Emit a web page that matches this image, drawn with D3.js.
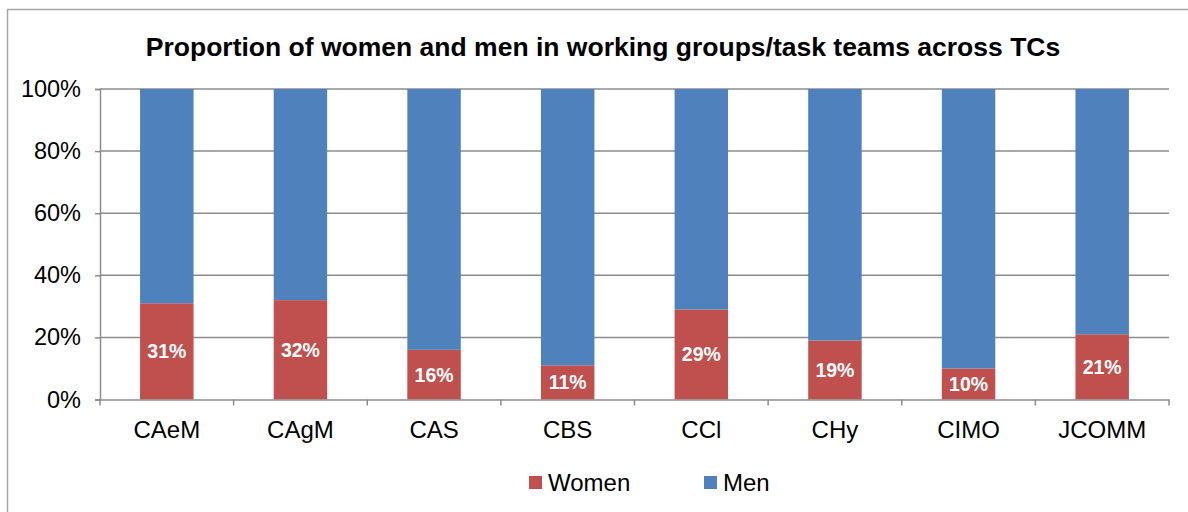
<!DOCTYPE html>
<html><head><meta charset="utf-8">
<script src="https://cdn.jsdelivr.net/npm/d3@7"></script>
<style>body{margin:0;background:#fff}svg{display:block;font-family:"Liberation Sans",Arial,sans-serif}</style>
</head><body>
<svg id="c" width="1188" height="512"></svg>
<script>
const categories = ["CAeM","CAgM","CAS","CBS","CCl","CHy","CIMO","JCOMM"];
const women = [31,32,16,11,29,19,10,21];
const men = [69,68,84,89,71,81,90,79];
const yTicks = [0,20,40,60,80,100];
const seriesNames = ["Women","Men"];
const colors = {Women:"#C0504D", Men:"#4F81BD"};

const svg = d3.select("#c");
const m = {left:100, right:1169, top:89, bottom:399.5};
const FONT = "Liberation Sans, Arial, sans-serif";

// frame
svg.append("rect").attr("x",7.5).attr("y",9.5).attr("width",1200).attr("height",520)
  .attr("fill","none").attr("stroke","#a6a6a6").attr("stroke-width",1.5);

const x = d3.scaleBand().domain(categories).range([m.left,m.right]).paddingInner(0.6).paddingOuter(0.3);
const xb = d3.scaleBand().domain(categories).range([m.left,m.right]);
const y = d3.scaleLinear().domain([0,100]).range([m.bottom,m.top]);

// gridlines
svg.append("g").selectAll("line").data(yTicks.filter(t=>t>0)).join("line")
  .attr("x1",m.left).attr("x2",m.right).attr("y1",d=>y(d)).attr("y2",d=>y(d))
  .attr("stroke","#8c8c8c").attr("stroke-width",1.5);

// stacked data
const rows = categories.map((c,i)=>({cat:c, Women:women[i], Men:men[i]}));
const stack = d3.stack().keys(seriesNames)(rows);
svg.append("g").selectAll("g").data(stack).join("g").attr("fill",d=>colors[d.key])
  .selectAll("rect").data(d=>d).join("rect")
  .attr("x",d=>x(d.data.cat)).attr("width",x.bandwidth())
  .attr("y",d=>y(d[1])).attr("height",d=>y(d[0])-y(d[1]));

// labels
svg.append("g").selectAll("text").data(stack[0]).join("text")
  .attr("x",d=>x(d.data.cat)+x.bandwidth()/2)
  .attr("y",d=>(y(d[0])+y(d[1]))/2)
  .attr("dy","0.36em").attr("text-anchor","middle")
  .attr("fill","#fff").attr("font-weight","bold").attr("font-size",19.5)
  .text(d=>d.data.Women+"%");

// y axis
const ya = svg.append("g").attr("transform",`translate(${m.left},0)`)
  .call(d3.axisLeft(y).tickValues(yTicks).tickFormat(d=>d+"%").tickSize(5).tickPadding(14));
ya.select(".domain").attr("stroke","#8c8c8c").attr("stroke-width",1.5);
ya.selectAll(".tick line").attr("stroke","#8c8c8c").attr("stroke-width",1.5);
ya.selectAll("text").attr("font-size",23.5).attr("fill","#000").attr("font-family",FONT);

// x axis
const xa = svg.append("g").attr("transform",`translate(0,${m.bottom})`)
  .call(d3.axisBottom(xb).tickSize(0).tickPadding(21));
xa.select(".domain").attr("stroke","#8c8c8c").attr("stroke-width",1.5);
xa.selectAll("text").attr("font-size",24).attr("fill","#000").attr("font-family",FONT);
// category boundary ticks
const bounds = categories.map(c=>xb(c)).concat([m.right]);
svg.append("g").selectAll("line").data(bounds).join("line")
  .attr("x1",d=>d).attr("x2",d=>d).attr("y1",m.bottom).attr("y2",m.bottom+6)
  .attr("stroke","#8c8c8c").attr("stroke-width",1.5);

// title
svg.append("text").attr("x",603).attr("y",46).attr("dy","0.36em").attr("text-anchor","middle")
  .attr("font-weight","bold").attr("font-size",26.5).attr("fill","#000")
  .text("Proportion of women and men in working groups/task teams across TCs");

// legend
const legX = [529,704];
const lg = svg.append("g").selectAll("g").data(seriesNames).join("g")
  .attr("transform",(d,i)=>`translate(${legX[i]},476)`);
lg.append("rect").attr("width",13).attr("height",13).attr("fill",d=>colors[d]);
lg.append("text").attr("x",19).attr("y",6.5).attr("dy","0.36em").attr("font-size",24).attr("fill","#000").text(d=>d);
</script>
</body></html>
